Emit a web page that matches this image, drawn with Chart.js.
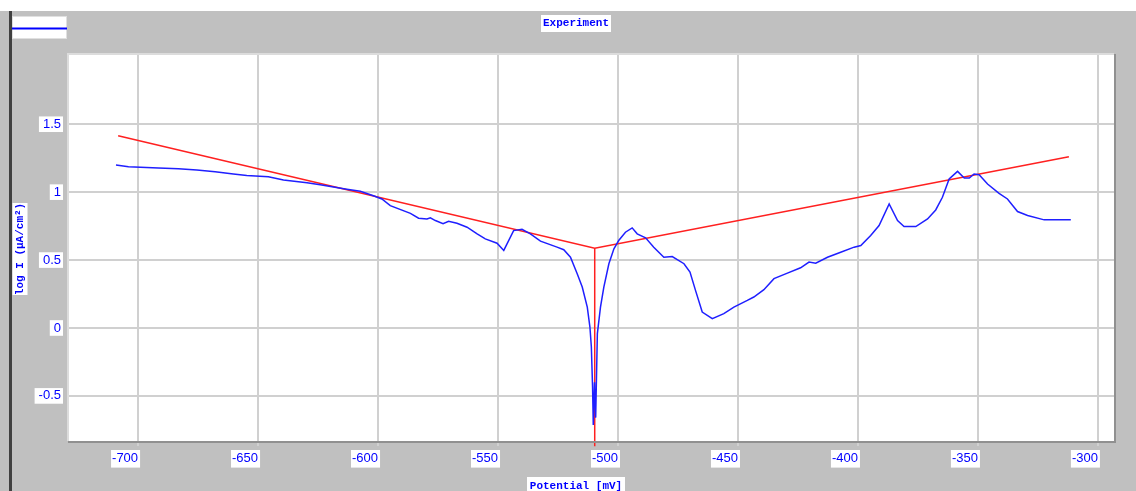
<!DOCTYPE html>
<html>

<head>
  <script src="https://cdn.jsdelivr.net/npm/chart.js@4.4.1/dist/chart.umd.min.js"></script>
  <style>
    body { margin: 0; background: #fff; }
  </style>
</head>

<body>
  <canvas id="myChart" width="1136" height="491"></canvas>
  <script type="text/javascript">
    // axis ticks
    var xTicks = [-700, -650, -600, -550, -500, -450, -400, -350, -300];
    var yTicks = [-0.5, 0, 0.5, 1, 1.5];

    // measured curve (potential mV, log I)
    var expX = [-709.2, -704.0, -691.5, -683.2, -675.5, -667.9, -660.3, -654.7, -645.7, -639.4,
      -629.6, -624.1, -613.0, -607.4, -601.9, -598.4, -594.9, -586.5, -583.1, -579.6,
      -578.2, -576.1, -572.9, -570.6, -567.1, -562.9, -558.7, -555.3, -550.4, -547.6,
      -543.5, -540.0, -536.5, -532.3, -525.4, -522.6, -519.8, -517.0, -514.9, -512.8,
      -511.7, -511.1, -510.6, -510.3, -509.8, -509.3, -508.6, -507.3, -505.9, -503.8,
      -501.7, -499.7, -496.9, -494.1, -492.0, -488.5, -485.1, -480.9, -477.4, -472.5,
      -470.0, -467.7, -464.9, -460.7, -455.9, -451.7, -446.1, -443.4, -439.2, -435.0,
      -429.4, -423.9, -420.4, -417.6, -412.7, -407.2, -401.6, -398.8, -394.7, -391.2,
      -387.0, -383.5, -380.8, -375.9, -371.0, -367.6, -364.8, -362.0, -358.5, -355.7,
      -353.6, -351.6, -349.5, -346.0, -341.2, -337.7, -333.5, -329.3, -322.4, -311.3];
    var expY = [1.200, 1.187, 1.178, 1.173, 1.163, 1.151, 1.134, 1.122, 1.114, 1.090,
      1.070, 1.055, 1.021, 1.006, 0.974, 0.950, 0.901, 0.844, 0.808, 0.803,
      0.811, 0.791, 0.767, 0.786, 0.771, 0.742, 0.693, 0.656, 0.624, 0.571,
      0.717, 0.727, 0.693, 0.639, 0.595, 0.576, 0.521, 0.399, 0.301, 0.154,
      0.007, -0.140, -0.433, -0.714, -0.400, -0.660, -0.041, 0.154, 0.301, 0.473,
      0.583, 0.644, 0.705, 0.737, 0.693, 0.664, 0.595, 0.521, 0.526, 0.473,
      0.411, 0.277, 0.117, 0.069, 0.106, 0.154, 0.203, 0.228, 0.282, 0.363,
      0.404, 0.443, 0.485, 0.477, 0.521, 0.558, 0.595, 0.607, 0.681, 0.754,
      0.913, 0.791, 0.747, 0.747, 0.803, 0.869, 0.962, 1.097, 1.153, 1.104,
      1.104, 1.134, 1.128, 1.060, 0.991, 0.950, 0.857, 0.828, 0.796, 0.796];

    // Tafel fit lines
    var tafelX = [-708.3, -509.7, -312.1];
    var tafelY = [1.415, 0.587, 1.261];
    var ecorrX = [-509.7, -509.7];
    var ecorrY = [0.587, -0.87];

    function zip(xs, ys) {
      return xs.map(function(x, i) { return { x: x, y: ys[i] }; });
    }

    var blue = '#0000ff';

    var frame = {
      id: 'frame',
      beforeDraw: function(chart) {
        var c = chart.ctx, a = chart.chartArea;
        c.save();
        c.fillStyle = '#ffffff';
        c.fillRect(0, 0, chart.width, chart.height);
        c.fillStyle = '#c0c0c0';
        c.fillRect(0, 11, chart.width, chart.height - 11);
        c.fillStyle = '#404040';
        c.fillRect(9, 11, 3, chart.height - 11);
        c.fillStyle = '#ffffff';
        c.fillRect(a.left, a.top, a.right - a.left, a.bottom - a.top);
        c.restore();
      },
      afterDraw: function(chart) {
        var c = chart.ctx, a = chart.chartArea;
        c.save();
        // plot frame
        c.strokeStyle = '#dcdcdc';
        c.lineWidth = 2;
        c.beginPath();
        c.moveTo(a.left, a.bottom);
        c.lineTo(a.left, a.top);
        c.lineTo(a.right, a.top);
        c.stroke();
        c.strokeStyle = '#909090';
        c.beginPath();
        c.moveTo(a.right + 1, a.top);
        c.lineTo(a.right + 1, a.bottom + 1);
        c.lineTo(a.left, a.bottom + 1);
        c.stroke();

        // legend box
        c.fillStyle = '#ffffff';
        c.fillRect(12, 16, 55, 23);
        c.strokeStyle = '#e0e0e0';
        c.lineWidth = 1;
        c.strokeRect(12.5, 16.5, 54, 22);
        c.strokeStyle = blue;
        c.lineWidth = 2;
        c.beginPath();
        c.moveTo(12, 28.5);
        c.lineTo(67, 28.5);
        c.stroke();

        c.font = 'bold 11px "Liberation Mono"';
        c.textBaseline = 'middle';
        c.textAlign = 'center';
        // title
        c.fillStyle = '#ffffff';
        c.fillRect(541, 15, 70, 17);
        c.fillStyle = blue;
        c.fillText('Experiment', 576, 23.5);
        // x title
        c.fillStyle = '#ffffff';
        c.fillRect(527, 477, 98, 16);
        c.fillStyle = blue;
        c.fillText('Potential [mV]', 576, 486);
        // y title
        c.translate(20, 249);
        c.rotate(-Math.PI / 2);
        c.fillStyle = '#ffffff';
        c.fillRect(-46, -7.5, 92, 15);
        c.fillStyle = blue;
        c.fillText('log I (\u00b5A/cm\u00b2)', 0, 0.5);
        c.restore();
      }
    };

    var ctx = document.getElementById('myChart').getContext('2d');
    var chart = new Chart(ctx, {
      type: 'line',
      data: {
        datasets: [{
            label: 'Experiment',
            data: zip(expX, expY),
            borderColor: '#1f1fff',
            borderWidth: 1.5,
            pointRadius: 0,
            tension: 0
          },
          {
            label: 'Tafel',
            data: zip(tafelX, tafelY),
            borderColor: '#ff2020',
            borderWidth: 1.5,
            pointRadius: 0,
            tension: 0
          },
          {
            label: 'Ecorr',
            data: zip(ecorrX, ecorrY),
            borderColor: '#ff2020',
            borderWidth: 1.5,
            pointRadius: 0,
            clip: 6
          }
        ]
      },
      options: {
        responsive: false,
        devicePixelRatio: 1,
        animation: false,
        layout: {
          padding: { left: 0, top: 54, right: 22, bottom: 0 }
        },
        plugins: {
          legend: { display: false },
          tooltip: { enabled: false }
        },
        scales: {
          x: {
            type: 'linear',
            min: -729.2,
            max: -293.3,
            afterBuildTicks: function(scale) {
              scale.ticks = xTicks.map(function(v) { return { value: v }; });
            },
            afterFit: function(scale) { scale.height = 50; },
            border: { display: false },
            grid: { color: '#d0d0d0', lineWidth: 2, drawTicks: true, tickLength: 5, tickColor: '#d0d0d0' },
            ticks: {
              align: 'end',
              color: blue,
              font: { family: '"Liberation Sans"', size: 13 },
              padding: 5,
              maxRotation: 0,
              autoSkip: false,
              showLabelBackdrop: true,
              backdropColor: '#ffffff',
              backdropPadding: { left: 1, right: 2, top: 1, bottom: 1 },
              callback: function(v) { return v; }
            }
          },
          y: {
            min: -0.832,
            max: 2.017,
            afterBuildTicks: function(scale) {
              scale.ticks = yTicks.map(function(v) { return { value: v }; });
            },
            afterFit: function(scale) { scale.width = 68; },
            border: { display: false },
            grid: { color: '#d0d0d0', lineWidth: 2, drawTicks: false },
            ticks: {
              color: blue,
              font: { family: '"Liberation Sans"', size: 13 },
              padding: 7,
              autoSkip: false,
              showLabelBackdrop: true,
              backdropColor: '#ffffff',
              backdropPadding: { left: 4, right: 2, top: 0, bottom: 0 },
              callback: function(v) { return v; }
            }
          }
        }
      },
      plugins: [frame]
    });
  </script>
</body>

</html>
